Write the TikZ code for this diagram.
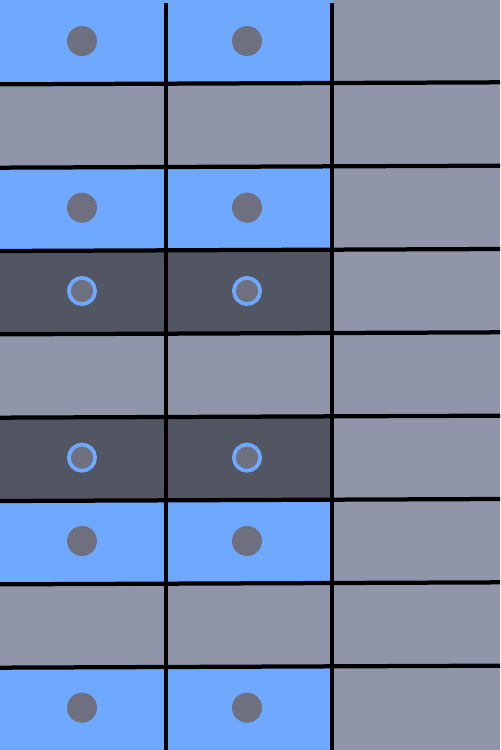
\documentclass[tikz,border=0pt]{standalone}
\usetikzlibrary{calc}
\definecolor{cellblue}{RGB}{111,168,255}
\definecolor{cellgray}{RGB}{144,149,170}
\definecolor{celldark}{RGB}{82,86,99}
\definecolor{dotgray}{RGB}{110,112,128}
\tikzset{
	gridline/.style={black, line width=0.085cm},
	fulldot/.style={circle, fill=dotgray, minimum size=0.6cm, inner sep=0pt},
	ringdot/.style={circle, fill=dotgray, draw=cellblue, line width=0.075cm, minimum size=0.525cm, inner sep=0pt}
}
\begin{document}
\begin{tikzpicture}[x=0.02cm, y=-0.02cm]

		\def\cw{166.667} % cell width
		\def\ch{83.333}  % cell height
		\useasboundingbox (0,0) rectangle (500,750);

		% cells: two coloured columns, right column always gray
		\foreach \r/\k in {0/cellblue,1/cellgray,2/cellblue,3/celldark,4/cellgray,5/celldark,6/cellblue,7/cellgray,8/cellblue} {
			\fill[\k] (0,\r*\ch) rectangle (2*\cw,\r*\ch+\ch);
			\fill[cellgray] (2*\cw,\r*\ch) rectangle (500,\r*\ch+\ch);
		}

		% filled dots on the blue rows
		\foreach \r in {0,2,6,8}
		\foreach \c in {0,1}
			\node[fulldot] (full-\r-\c) at (82+\c*165, \r*\ch+41) {};

		% rings on the dark rows
		\foreach \r in {3,5}
		\foreach \c in {0,1}
			\node[ringdot] (ring-\r-\c) at (82+\c*165, \r*\ch+41) {};

		% grid lines
		\foreach \r in {1,...,8}
			\draw[gridline] (0,\r*\ch+1) -- (500,\r*\ch-1);
		\foreach \x in {166,332}
			\draw[gridline] (\x,3) -- (\x,750);

	\end{tikzpicture}
\end{document}
